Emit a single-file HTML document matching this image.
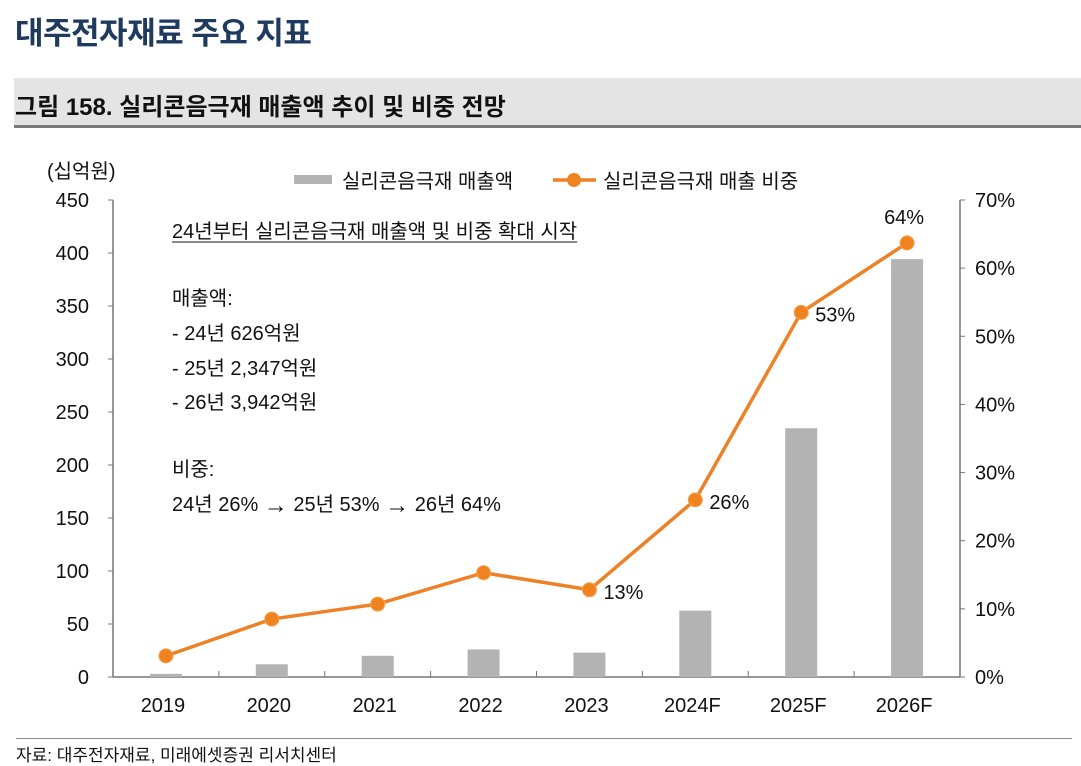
<!DOCTYPE html>
<html><head><meta charset="utf-8"><style>
body{margin:0;width:1081px;height:766px;background:#fff;overflow:hidden;font-family:"Liberation Sans","Noto Sans CJK KR",sans-serif;position:relative}
.t{position:absolute;white-space:nowrap}
</style></head><body>
<div class="t" style="left:15px;top:8px;font-size:31px;font-weight:bold;color:#1f3a5f;letter-spacing:-0.5px">대주전자재료 주요 지표</div>
<div style="position:absolute;left:14px;top:78px;width:1067px;height:47px;background:#e4e4e4;border-bottom:3px solid #7a7a7a"></div>
<div class="t" style="left:15px;top:87px;font-size:24px;font-weight:bold;color:#111">그림 158. 실리콘음극재 매출액 추이 및 비중 전망</div>
<svg id="c" width="1081" height="766" style="position:absolute;left:0;top:0"></svg>
<div style="position:absolute;left:16px;top:738px;width:1056px;height:1px;background:#888"></div>
<div class="t" style="left:16px;top:741px;font-size:17px;color:#111">자료: 대주전자재료, 미래에셋증권 리서치센터</div>
<script>
const categories=["2019","2020","2021","2022","2023","2024F","2025F","2026F"];
const sales=[3,12,20,26,23,62.6,234.7,394.2];
const share=[3.1,8.5,10.7,15.3,12.8,26,53.5,63.7];
const leftTicks=[0,50,100,150,200,250,300,350,400,450];
const rightTicks=[0,10,20,30,40,50,60,70];
const shareLabels={4:"13%",5:"26%",6:"53%",7:"64%"};
const svg=document.getElementById('c');const NS="http://www.w3.org/2000/svg";
function mk(t,a,txt){const e=document.createElementNS(NS,t);for(const k in a)e.setAttribute(k,a[k]);if(txt!=null)e.textContent=txt;svg.appendChild(e);return e;}
const X0=113,X1=960,Y0=677,Y1=200;
const bw=(X1-X0)/categories.length;
const xc=i=>X0+bw*(i+0.5);
const yl=v=>Y0-(v/450)*(Y0-Y1);
const yr=v=>Y0-(v/70)*(Y0-Y1);
const F='"Liberation Sans","Noto Sans CJK KR",sans-serif';
let e=mk('line',{x1:X0,y1:Y1,x2:X0,y2:Y0,stroke:'#777','stroke-width':1.5});
e=mk('line',{x1:X1,y1:Y1,x2:X1,y2:Y0,stroke:'#777','stroke-width':1.5});
e=mk('line',{x1:X0,y1:Y0,x2:X1,y2:Y0,stroke:'#777','stroke-width':1.5});
leftTicks.forEach(v=>{const y=yl(v);mk('line',{x1:X0-5,y1:y,x2:X0,y2:y,stroke:'#777'});
e=mk('text',{x:89,y:y+7,'text-anchor':'end','font-size':20,'font-family':F,fill:'#111'},String(v));});
rightTicks.forEach(v=>{const y=yr(v);mk('line',{x1:X1,y1:y,x2:X1+5,y2:y,stroke:'#777'});
e=mk('text',{x:975,y:y+7,'font-size':20,'font-family':F,fill:'#111'},v+'%');});
for(let i=1;i<categories.length;i++){mk('line',{x1:X0+bw*i,y1:Y0-6,x2:X0+bw*i,y2:Y0,stroke:'#777'});}
categories.forEach((c,i)=>{e=mk('text',{x:xc(i)-3,y:712,'text-anchor':'middle','font-size':20,'font-family':F,fill:'#111'},c);});
e=mk('text',{x:47,y:178,'font-size':20,'font-family':F,fill:'#111'},'(십억원)');
sales.forEach((v,i)=>{e=mk('rect',{x:xc(i)-16,y:yl(v),width:32,height:Y0-yl(v),fill:'#b3b3b3'});});
e=mk('polyline',{points:share.map((v,i)=>xc(i)+','+yr(v)).join(' '),fill:'none',stroke:'#ee8126','stroke-width':3.5});
share.forEach((v,i)=>{e=mk('circle',{cx:xc(i),cy:yr(v),r:7,fill:'#f0831f',stroke:'#f5a050','stroke-width':1});
if(shareLabels[i]){const top=i===7;e=mk('text',{x:top?xc(i)-23:xc(i)+14,y:top?yr(v)-19:yr(v)+9,'font-size':20,'font-family':F,fill:'#111'},shareLabels[i]);}});
e=mk('rect',{x:294,y:175,width:38,height:9,fill:'#b3b3b3'});
e=mk('text',{x:342,y:188,'font-size':20,'font-family':F,fill:'#111'},'실리콘음극재 매출액');
mk('line',{x1:553,y1:180,x2:596,y2:180,stroke:'#ee8126','stroke-width':3.5});
e=mk('circle',{cx:574,cy:180,r:7,fill:'#f0831f'});
e=mk('text',{x:603,y:188,'font-size':20,'font-family':F,fill:'#111'},'실리콘음극재 매출 비중');
const notes=[[238,'24년부터 실리콘음극재 매출액 및 비중 확대 시작'],[305,'매출액:'],[340,'- 24년 626억원'],[375,'- 25년 2,347억원'],[409,'- 26년 3,942억원'],[476,'비중:']];
notes.forEach((n,i)=>{e=mk('text',{x:172,y:n[0],'font-size':20,'font-family':F,fill:'#111'},n[1]);
if(i===0){const w=e.getComputedTextLength();mk('line',{x1:172,y1:n[0]+4,x2:172+w,y2:n[0]+4,stroke:'#111','stroke-width':1});}});
e=mk('text',{x:172,y:511,'font-size':20,'font-family':F,fill:'#111'});
e.innerHTML='24년 26% <tspan font-weight="bold" font-size="24" dy="2">→</tspan><tspan dy="-2"> 25년 53% </tspan><tspan font-weight="bold" font-size="24" dy="2">→</tspan><tspan dy="-2"> 26년 64%</tspan>';
</script>
</body></html>
